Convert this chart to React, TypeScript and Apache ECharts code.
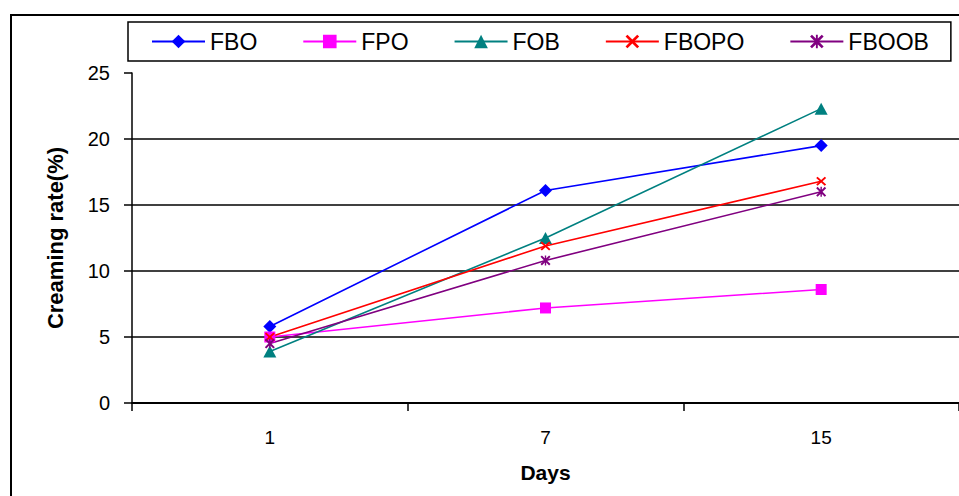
import React, { useEffect, useRef } from "react";
import * as echarts from "echarts";

const categories = ["1", "7", "15"];
const FBO = [5.8, 16.1, 19.5];
const FPO = [5.0, 7.2, 8.6];
const FOB = [3.9, 12.5, 22.3];
const FBOPO = [5.0, 11.9, 16.8];
const FBOOB = [4.5, 10.8, 16.0];

const FONT = "'Liberation Sans', Arial, sans-serif";
const X_PATH =
  "path://M0,1.4 L1.4,0 L5,3.6 L8.6,0 L10,1.4 L6.4,5 L10,8.6 L8.6,10 L5,6.4 L1.4,10 L0,8.6 L3.6,5 Z";
const STAR_PATH =
  "path://M0,1.4 L1.4,0 L5,3.6 L8.6,0 L10,1.4 L6.4,5 L10,8.6 L8.6,10 L5,6.4 L1.4,10 L0,8.6 L3.6,5 Z M4.3,0 L5.7,0 L5.7,10 L4.3,10 Z";

export default function App() {
  const ref = useRef<HTMLDivElement>(null);
  useEffect(() => {
    if (!ref.current) return;
    const chart = echarts.init(ref.current, null, { renderer: "svg" });
    const mk = (name: string, data: number[], color: string, symbol: string, size: any) => ({
      name,
      type: "line",
      data,
      symbol,
      symbolSize: size,
      lineStyle: { color, width: 1.6 },
      itemStyle: { color },
      z: 3,
    });
    chart.setOption({
      animation: false,
      backgroundColor: "#fff",
      textStyle: { fontFamily: FONT },
      graphic: [
        {
          type: "rect",
          shape: { x: 11, y: 15, width: 1000, height: 600 },
          style: { fill: "none", stroke: "#000", lineWidth: 2 },
          z: -1,
        },
      ],
      legend: {
        left: 128,
        top: 22,
        padding: [8, 22, 8, 23],
        borderColor: "#000",
        borderWidth: 1.5,
        itemWidth: 53,
        itemHeight: 17,
        itemGap: 45,
        textStyle: { fontSize: 23, color: "#000", fontFamily: FONT },
        data: ["FBO", "FPO", "FOB", "FBOPO", "FBOOB"],
      },
      grid: { left: 132, right: 0, top: 73, bottom: 93 },
      xAxis: {
        type: "category",
        data: categories,
        boundaryGap: true,
        name: "Days",
        nameLocation: "middle",
        nameGap: 59,
        nameTextStyle: { fontSize: 21, fontWeight: "bold", color: "#000", fontFamily: FONT },
        axisLine: { lineStyle: { color: "#000", width: 2 } },
        axisTick: { show: true, length: 8, alignWithLabel: false, lineStyle: { color: "#000", width: 1.5 } },
        axisLabel: { fontSize: 19, color: "#000", margin: 25, fontFamily: FONT },
      },
      yAxis: {
        type: "value",
        min: 0,
        max: 25,
        interval: 5,
        name: "Creaming rate(%)",
        nameLocation: "middle",
        nameGap: 66,
        nameTextStyle: { fontSize: 22, fontWeight: "bold", color: "#000", fontFamily: FONT },
        axisLine: { show: true, lineStyle: { color: "#000", width: 1.5 } },
        axisTick: { show: true, length: 8, lineStyle: { color: "#000", width: 1.5 } },
        axisLabel: { fontSize: 20, color: "#000", margin: 22, fontFamily: FONT },
        splitLine: { show: true, showMaxLine: false, lineStyle: { color: "#000", width: 1.5 } },
      },
      series: [
        mk("FBO", FBO, "#0000FF", "diamond", 13),
        mk("FPO", FPO, "#FF00FF", "rect", 11),
        mk("FOB", FOB, "#008080", "triangle", [13, 12]),
        mk("FBOPO", FBOPO, "#FF0000", X_PATH, [10, 9]),
        mk("FBOOB", FBOOB, "#800080", STAR_PATH, [10, 10]),
      ],
    });
    return () => chart.dispose();
  }, []);
  return (
    <div
      ref={ref}
      style={{ position: "absolute", left: 0, top: 0, width: 959, height: 496 }}
    />
  );
}
